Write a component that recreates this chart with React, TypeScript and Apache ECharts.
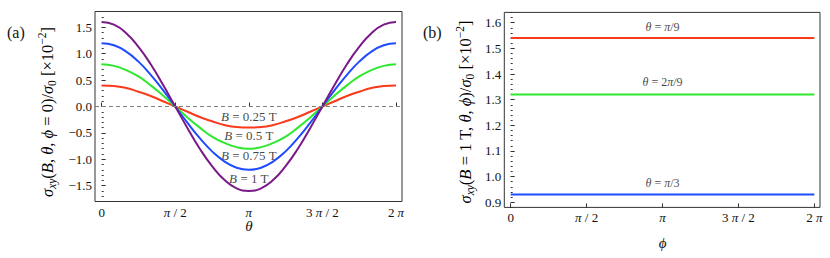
import React, { useEffect, useRef } from "react";
import * as echarts from "echarts";

// ---------- data (panel a) : theta in units of pi ----------
const thetaPi = [0, 0.0833, 0.1667, 0.25, 0.3333, 0.4167, 0.5, 0.5833, 0.6667, 0.75, 0.8333, 0.9167, 1,
  1.0833, 1.1667, 1.25, 1.3333, 1.4167, 1.5, 1.5833, 1.6667, 1.75, 1.8333, 1.9167, 2];
const sigB025 = [0.40, 0.39, 0.35, 0.28, 0.20, 0.10, 0, -0.10, -0.20, -0.28, -0.35, -0.39, -0.40,
  -0.39, -0.35, -0.28, -0.20, -0.10, 0, 0.10, 0.20, 0.28, 0.35, 0.39, 0.40];
const sigB050 = [0.80, 0.77, 0.69, 0.57, 0.40, 0.21, 0, -0.21, -0.40, -0.57, -0.69, -0.77, -0.80,
  -0.77, -0.69, -0.57, -0.40, -0.21, 0, 0.21, 0.40, 0.57, 0.69, 0.77, 0.80];
const sigB075 = [1.20, 1.16, 1.04, 0.85, 0.60, 0.31, 0, -0.31, -0.60, -0.85, -1.04, -1.16, -1.20,
  -1.16, -1.04, -0.85, -0.60, -0.31, 0, 0.31, 0.60, 0.85, 1.04, 1.16, 1.20];
const sigB100 = [1.60, 1.55, 1.39, 1.13, 0.80, 0.41, 0, -0.41, -0.80, -1.13, -1.39, -1.55, -1.60,
  -1.55, -1.39, -1.13, -0.80, -0.41, 0, 0.41, 0.80, 1.13, 1.39, 1.55, 1.60];
const bFields = ["0.25", "0.5", "0.75", "1"];
const bLabelX = [1, 1, 1, 1];
const bLabelY = [-0.18, -0.54, -0.93, -1.37];

// ---------- data (panel b) : phi in units of pi ----------
const phiPi = [0, 0.5, 1, 1.5, 2];
const sigThPi9 = [1.54, 1.54, 1.54, 1.54, 1.54];
const sigTh2Pi9 = [1.32, 1.32, 1.32, 1.32, 1.32];
const sigThPi3 = [0.93, 0.93, 0.93, 0.93, 0.93];
const thetaLabels = ["{i|θ} = {i|π}/9", "{i|θ} = 2{i|π}/9", "{i|θ} = {i|π}/3"];
const thLabelX = [1, 1, 1];
const thLabelY = [1.582, 1.368, 0.974];

const xTickLabels = ["0", "π / 2", "π", "3 π / 2", "2 π"];

const FONT = "'Liberation Serif', 'Times New Roman', Times, serif";
const TXT = "#111111";
const FRAME = "#333333";
const RED = "#fb3a1c";
const GREEN = "#2ee82e";
const BLUE = "#1f4cff";
const PURPLE = "#7a1a88";

const tickLabelStyle = { fontFamily: FONT, fontSize: 13, color: TXT };

function xLabelFmt(v: number) {
  const idx = Math.round(v * 2);
  const s = xTickLabels[idx] ?? "";
  return s.replace(/π/g, "{p|π}");
}
function yLabelFmt(v: number) {
  return v.toFixed(1).replace("-", "−");
}

const titleRich = (size: number) => ({
  n: { fontFamily: FONT, fontSize: size, color: TXT, lineHeight: 22 },
  i: { fontFamily: FONT, fontSize: size, fontStyle: "italic", color: TXT, lineHeight: 22 },
  sub: { fontFamily: FONT, fontSize: size - 5, fontStyle: "italic", color: TXT, lineHeight: 11, verticalAlign: "bottom" },
  sub0: { fontFamily: FONT, fontSize: size - 5, color: TXT, lineHeight: 11, verticalAlign: "bottom" },
  sup: { fontFamily: FONT, fontSize: size - 5, color: TXT, lineHeight: 11, verticalAlign: "top" },
});

function minorY(gridIdx: number, min: number, max: number, interval: number) {
  return {
    gridIndex: gridIdx, type: "value", min, max, interval,
    axisLine: { show: false },
    axisTick: { show: true, inside: true, length: 2, lineStyle: { color: FRAME, width: 1 } },
    axisLabel: { show: false },
    splitLine: { show: false },
  };
}
function majorY(gridIdx: number, min: number, max: number, interval: number, offset: number) {
  return {
    gridIndex: gridIdx, type: "value", min, max, interval, offset,
    axisLine: { show: false },
    axisTick: { show: true, inside: true, length: 4, lineStyle: { color: FRAME, width: 1 } },
    axisLabel: { show: true, margin: 3, formatter: yLabelFmt, ...tickLabelStyle },
    splitLine: { show: false },
  };
}
function hiddenX(gridIdx: number, min: number, max: number) {
  return { gridIndex: gridIdx, type: "value", min, max, show: false, splitLine: { show: false } };
}
function majorX(gridIdx: number, offset: number, name: string, nameGap: number) {
  return {
    gridIndex: gridIdx, type: "value", min: 0, max: 2, interval: 0.5, offset,
    axisLine: { show: false },
    axisTick: { show: true, inside: true, length: 4, lineStyle: { color: FRAME, width: 1 } },
    axisLabel: {
      show: true, margin: 4, formatter: xLabelFmt, ...tickLabelStyle,
      rich: { p: { fontFamily: FONT, fontSize: 13, fontStyle: "italic", color: TXT } },
    },
    splitLine: { show: false },
    name, nameLocation: "middle", nameGap, nameMoveOverlap: false,
    nameTextStyle: { fontFamily: FONT, fontSize: 15, fontStyle: "italic", color: TXT },
  };
}

function lineSeries(xs: number[], ys: number[], color: string, xi: number, yi: number, extra: any = {}) {
  return {
    type: "line", xAxisIndex: xi, yAxisIndex: yi,
    data: xs.map((x, i) => [x, ys[i]]),
    smooth: true, showSymbol: false, symbol: "none",
    lineStyle: { color, width: 2 }, itemStyle: { color },
    ...extra,
  };
}

export default function App() {
  const ref = useRef<HTMLDivElement>(null);
  useEffect(() => {
    if (!ref.current) return;
    const chart = echarts.init(ref.current, undefined, { renderer: "svg" });
    const option: any = {
      animation: false,
      backgroundColor: "#ffffff",
      textStyle: { fontFamily: FONT },
      grid: [
        { left: 95, top: 11.5, width: 307, height: 190, show: true, borderColor: FRAME, borderWidth: 1, backgroundColor: "transparent", containLabel: false },
        { left: 101.7, top: 27.3, width: 294.3, height: 158.4, show: false, containLabel: false },
        { left: 504.3, top: 12.4, width: 315.7, height: 195, show: true, borderColor: FRAME, borderWidth: 1, backgroundColor: "transparent", containLabel: false },
        { left: 510.7, top: 22.7, width: 303.6, height: 179.6, show: false, containLabel: false },
      ],
      xAxis: [
        hiddenX(0, -0.0455, 2.041),
        majorX(1, 15.8, "θ", 17),
        hiddenX(2, -0.042, 2.0375),
        majorX(3, 5.1, "ϕ", 28),
      ],
      yAxis: [
        minorY(0, -1.8, 1.8, 0.1),
        majorY(1, -1.5, 1.5, 0.5, 6.7),
        minorY(2, 0.88, 1.64, 0.02),
        majorY(3, 0.9, 1.6, 0.1, 6.4),
      ],
      series: [
        lineSeries(thetaPi, sigB025, RED, 0, 0, {
          markLine: {
            silent: true, symbol: ["none", "none"], label: { show: false },
            lineStyle: { color: "#808080", type: [4, 3], width: 1 },
            data: [{ yAxis: 0 }],
          },
        }),
        lineSeries(thetaPi, sigB050, GREEN, 0, 0),
        lineSeries(thetaPi, sigB075, BLUE, 0, 0),
        lineSeries(thetaPi, sigB100, PURPLE, 0, 0),
        {
          type: "scatter", xAxisIndex: 0, yAxisIndex: 0, silent: true,
          symbol: "circle", symbolSize: 1, itemStyle: { color: "transparent" },
          data: bFields.map((b, i) => ({ value: [bLabelX[i], bLabelY[i]], name: b })),
          label: {
            show: true, position: "inside",
            formatter: (p: any) => `{i|B} = ${p.name} T`,
            fontFamily: FONT, fontSize: 13, color: TXT,
            rich: { i: { fontFamily: FONT, fontSize: 13, fontStyle: "italic", color: TXT } },
          },
        },
        lineSeries(phiPi, sigThPi9, RED, 2, 2, { smooth: false }),
        lineSeries(phiPi, sigTh2Pi9, GREEN, 2, 2, { smooth: false }),
        lineSeries(phiPi, sigThPi3, BLUE, 2, 2, { smooth: false }),
        {
          type: "scatter", xAxisIndex: 2, yAxisIndex: 2, silent: true,
          symbol: "circle", symbolSize: 1, itemStyle: { color: "transparent" },
          data: thetaLabels.map((t, i) => ({ value: [thLabelX[i], thLabelY[i]], name: t })),
          label: {
            show: true, position: "inside",
            formatter: (p: any) => p.name,
            fontFamily: FONT, fontSize: 12, color: TXT,
            rich: { i: { fontFamily: FONT, fontSize: 12, fontStyle: "italic", color: TXT } },
          },
        },
      ],
      graphic: [
        { type: "text", left: 7, top: 24, style: { text: "(a)", fontFamily: FONT, fontSize: 16, fill: TXT } },
        { type: "text", left: 423, top: 24, style: { text: "(b)", fontFamily: FONT, fontSize: 16, fill: TXT } },
        {
          type: "text", x: 47, y: 112, rotation: Math.PI / 2,
          style: {
            text: "{i|σ}{sub|xy}{n|(}{i|B}{n|, }{i|θ}{n|, }{i|ϕ}{n| = 0)/}{i|σ}{sub0|0}{n| [×10}{sup|−2}{n|]}",
            rich: titleRich(16.5), align: "center", verticalAlign: "middle",
          },
        },
        {
          type: "text", x: 465, y: 112, rotation: Math.PI / 2,
          style: {
            text: "{i|σ}{sub|xy}{n|(}{i|B}{n| = 1 T, }{i|θ}{n|, }{i|ϕ}{n|)/}{i|σ}{sub0|0}{n| [×10}{sup|−2}{n|]}",
            rich: titleRich(16.5), align: "center", verticalAlign: "middle",
          },
        },
      ],
    };
    chart.setOption(option);
    return () => chart.dispose();
  }, []);
  return (
    <div
      ref={ref}
      style={{ position: "absolute", left: 0, top: 0, width: 830, height: 258, background: "#fff" }}
    />
  );
}
